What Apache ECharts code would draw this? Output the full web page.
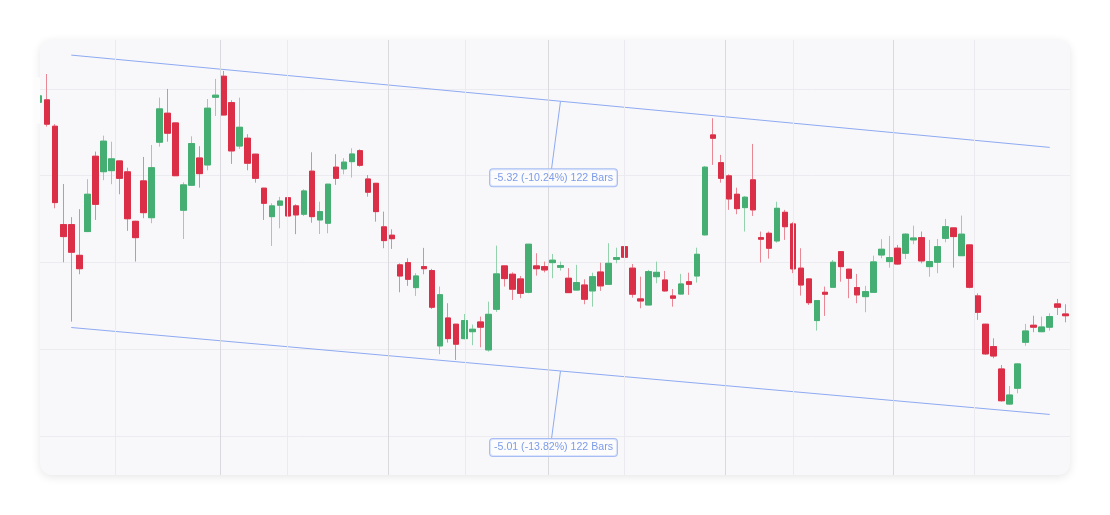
<!DOCTYPE html>
<html>
<head>
<meta charset="utf-8">
<title>Channel</title>
<script src="https://cdn.jsdelivr.net/npm/echarts@6/dist/echarts.min.js"></script>
<style>
	html, body { margin: 0; padding: 0; background: #ffffff; }
	#main { width: 1110px; height: 515px; }
</style>
</head>
<body>
<div id="main"></div>
<script>
// bar i = index in these arrays
var open  = [49.23,49.37,47.85,42.18,42.18,40.41,41.78,46.12,45.23,45.29,45.85,45.22,42.37,44.70,42.58,46.93,48.60,48.04,43.01,44.45,46.02,45.62,
	49.52,50.73,49.21,46.71,47.16,46.24,44.28,42.64,43.30,43.73,43.26,42.78,45.26,42.45,42.26,45.49,45.39,45.81,46.44,44.81,44.56,
	42.05,41.57,39.86,39.99,38.55,39.76,39.53,35.19,36.80,36.44,35.61,36.01,36.57,34.96,37.30,39.80,39.32,39.05,38.28,39.80,39.76,
	39.99,39.72,39.09,38.41,38.70,38.36,39.45,38.74,40.18,40.91,39.67,37.90,37.55,39.18,38.99,38.07,38.18,38.89,39.22,41.59,47.35,
	45.75,44.99,43.93,43.16,44.76,41.43,41.68,41.24,42.89,42.22,39.67,39.05,36.65,38.28,38.57,40.62,39.61,38.55,38.03,38.28,40.43,
	40.05,40.82,40.53,41.30,41.43,39.76,40.01,41.39,41.99,40.39,41.01,38.07,36.44,35.15,33.86,31.84,32.75,35.40,36.38,36.01,36.27,37.61,37.03];
var close = [49.60,47.97,43.45,41.49,40.59,39.64,43.93,43.35,46.99,45.97,44.85,42.52,41.43,42.87,45.46,48.85,47.45,45.00,44.47,46.85,45.12,48.89,
	49.64,48.50,46.43,47.79,45.72,44.85,43.41,43.26,43.54,42.68,42.74,44.12,42.64,42.93,44.51,44.85,45.78,46.25,45.60,44.05,42.93,
	41.26,41.37,39.22,39.03,39.22,39.64,37.42,38.14,35.61,35.29,36.65,36.15,36.27,37.01,39.34,39.07,38.46,38.22,41.05,39.64,39.57,
	40.13,39.82,38.26,38.84,37.88,39.18,38.65,39.95,40.28,40.30,38.17,37.78,39.47,39.43,38.36,37.94,38.76,38.74,40.47,45.49,47.16,
	44.85,43.66,43.10,43.76,43.03,41.34,40.82,43.12,42.06,39.63,38.70,37.68,37.80,38.17,40.01,39.76,39.09,38.13,38.32,40.03,40.76,
	40.28,39.91,41.63,41.41,40.09,40.05,40.91,42.06,41.49,41.63,38.57,37.13,34.73,34.61,32.03,32.36,34.15,36.05,36.27,36.28,36.88,37.42,36.93];
var low   = [48.35,47.83,43.12,40.01,36.59,39.32,41.75,42.45,44.74,44.51,43.93,41.82,40.05,42.55,42.26,46.67,46.96,44.98,41.35,44.43,44.31,45.31,
	48.44,48.48,45.68,46.54,45.31,44.60,42.45,40.95,41.97,42.29,41.63,42.68,42.29,41.64,41.68,44.47,45.08,44.89,45.52,43.79,42.35,
	40.82,40.78,38.28,38.65,38.07,39.32,37.32,34.71,35.38,34.38,35.57,35.23,35.11,34.86,37.15,38.61,37.84,37.94,38.22,39.24,39.43,
	39.09,39.53,38.24,38.39,37.59,37.45,38.36,38.72,39.95,40.10,37.97,37.36,37.53,38.80,38.32,37.45,38.15,38.13,38.84,41.55,45.62,
	44.60,43.03,42.78,41.78,42.68,39.99,40.22,41.14,41.30,39.38,38.09,37.55,36.07,36.92,38.55,38.89,37.94,37.65,37.13,38.26,40.24,
	39.70,39.86,40.20,41.05,39.95,39.18,39.38,41.16,39.70,40.37,38.51,36.69,34.67,34.48,31.98,31.79,32.46,35.20,35.98,35.98,36.07,36.97,36.55];
var high  = [50.07,50.86,47.97,44.52,42.61,43.07,44.80,46.39,47.31,46.96,45.87,45.46,42.40,46.08,46.77,49.50,50.00,48.06,44.62,47.27,46.70,49.42,
	50.58,51.04,49.35,49.50,47.39,46.26,44.30,43.41,43.78,45.20,43.35,44.22,46.35,43.50,44.53,46.24,46.01,46.58,46.52,45.04,44.58,
	42.93,41.91,39.95,40.24,39.38,40.84,39.63,38.61,37.65,36.46,37.03,36.42,36.88,37.74,40.97,39.82,39.43,39.22,41.07,40.53,40.05,
	40.49,40.05,39.67,39.86,39.03,39.41,39.99,41.11,40.85,41.01,39.91,39.18,39.57,40.05,39.51,38.47,39.34,39.41,40.85,45.56,48.31,
	46.20,45.08,44.31,43.83,46.83,41.78,41.78,43.50,43.03,42.32,40.82,39.07,37.82,38.61,40.14,40.64,39.63,39.34,38.65,40.39,41.34,
	41.53,41.01,41.68,42.12,41.78,41.30,41.35,42.51,42.01,42.70,41.03,38.22,36.46,35.63,34.09,32.88,34.19,36.46,36.93,36.88,37.07,37.90,37.59];

// channel drawn between two bars
var channelBars  = [4, 126];
var upperChannel = [51.95, 46.63];
var lowerChannel = [36.25, 31.24];

// time grid lines (bar positions), every second one is a major line
var gridTicks = [9.5, 22.6, 30.95, 43.5, 53.1, 63.5, 73, 85.55, 94, 106.5, 116.6];

var upColor = '#45ae73', downColor = '#db2f48';
var upWick = '#93d2ad', downWick = '#ea8794';
var channelColor = '#8eaaf2';

var candles = open.map(function(o, i) {
	return [i, o, close[i], low[i], high[i]];
});
var bodies = open.map(function(o, i) {
	return [i, o, close[i], Math.min(o, close[i]), Math.max(o, close[i])];
});

var gridMarks = gridTicks.map(function(t, i) {
	return { xAxis: t, lineStyle: { color: i % 2 == 1 ? '#d9d9de' : '#ebebef' } };
});

var myChart = echarts.init(document.getElementById('main'));
var option = {
	animation: false,
	grid: { left: 40, right: 40, top: 40, bottom: 40 },
	xAxis: {
		type: 'value',
		min: 0.1,
		max: 128.53,
		axisLine: { show: false },
		axisTick: { show: false },
		axisLabel: { show: false },
		splitLine: { show: false }
	},
	yAxis: {
		type: 'value',
		min: 27.75,
		max: 52.82,
		axisLine: { show: false },
		axisTick: { show: false },
		axisLabel: { show: false },
		splitLine: { show: true, showMinLine: false, showMaxLine: false, lineStyle: { color: '#ececf0', width: 1 } }
	},
	series: [
		{
			// only carries the vertical grid lines
			type: 'line',
			z: 1,
			data: [],
			silent: true,
			markLine: {
				silent: true,
				symbol: ['none', 'none'],
				label: { show: false },
				lineStyle: { width: 1, type: 'solid' },
				data: gridMarks
			}
		},
		{
			type: 'candlestick',
			z: 3,
			clip: true,
			barWidth: 6,
			encode: { x: 0, y: [1, 2, 3, 4] },
			data: candles,
			itemStyle: {
				color: upWick, color0: downWick,
				borderColor: upWick, borderColor0: downWick,
				borderWidth: 1
			}
		},
		{
			type: 'candlestick',
			z: 3,
			clip: true,
			barWidth: 6,
			encode: { x: 0, y: [1, 2, 3, 4] },
			data: bodies,
			itemStyle: {
				color: upColor, color0: downColor,
				borderColor: upColor, borderColor0: downColor,
				borderWidth: 1
			}
		},
		{
			type: 'line',
			z: 4,
			symbol: 'none',
			silent: true,
			lineStyle: { color: channelColor, width: 1 },
			data: [[channelBars[0], upperChannel[0]], [channelBars[1], upperChannel[1]]]
		},
		{
			type: 'line',
			z: 4,
			symbol: 'none',
			silent: true,
			lineStyle: { color: channelColor, width: 1 },
			data: [[channelBars[0], lowerChannel[0]], [channelBars[1], lowerChannel[1]]]
		}
	]
};
myChart.setOption(option);

//标签
function channelLabel(vals) {
	var diff = vals[1] - vals[0];
	var pct = diff / vals[0] * 100;
	var bars = channelBars[1] - channelBars[0];
	var mid = (channelBars[0] + channelBars[1]) / 2;
	var midVal = (vals[0] + vals[1]) / 2;
	var p = myChart.convertToPixel({ gridIndex: 0 }, [mid, midVal]);
	return [
		{
			type: 'line',
			z: 10,
			shape: { x1: p[0], y1: p[1], x2: p[0] - 9, y2: p[1] + 68 },
			style: { stroke: channelColor, lineWidth: 1 }
		},
		{
			type: 'text',
			z: 11,
			x: p[0] - 7,
			y: p[1] + 68,
			style: {
				text: diff.toFixed(2) + ' (' + pct.toFixed(2) + '%) ' + bars + ' Bars',
				font: '10.6px "Liberation Sans", Arial, sans-serif',
				fill: '#7d9ce8',
				align: 'center',
				verticalAlign: 'top',
				backgroundColor: 'rgba(255,255,255,0.6)',
				borderColor: '#a7bdf4',
				borderWidth: 1,
				borderRadius: 3,
				padding: [3, 4]
			}
		}
	];
}

// the first bar sits half outside the card: hide the part that sticks out
var firstBar = myChart.convertToPixel({ gridIndex: 0 }, [0, low[0]]);

var elements = [{
	type: 'rect',
	z: -10,
	shape: { x: 40, y: 40, width: 1030, height: 435, r: 12 },
	style: {
		fill: '#f8f8fa',
		shadowBlur: 10,
		shadowOffsetY: 2,
		shadowColor: 'rgba(0,0,0,0.10)'
	}
}, {
	type: 'rect',
	z: 20,
	shape: { x: 34, y: firstBar[1] - 40, width: 6, height: 46 },
	style: { fill: '#fcfcfc' }
}].concat(channelLabel(upperChannel), channelLabel(lowerChannel));

myChart.setOption({ graphic: { elements: elements } });
</script>
</body>
</html>
